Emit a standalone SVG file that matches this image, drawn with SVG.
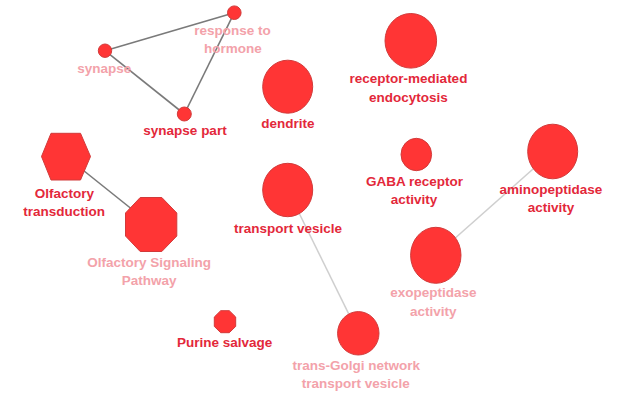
<svg xmlns="http://www.w3.org/2000/svg" width="619" height="399" viewBox="0 0 619 399">
<style>
.n{fill:#ff3535;stroke:#d23a3a;stroke-width:1}
.t{font-family:"Liberation Sans",Arial,sans-serif;font-weight:bold;font-size:13.5px;text-anchor:middle}
.r{fill:#e3283a}
.p{fill:#f3a2aa}
.ed{stroke:#7a7a7a;stroke-width:1.6;fill:none}
.el{stroke:#cfcfcf;stroke-width:1.5;fill:none}
</style>
<rect width="619" height="399" fill="#ffffff"/>
<g id="edges">
<line class="ed" x1="105" y1="50.7" x2="234.3" y2="12.7"/>
<line class="ed" x1="105" y1="50.7" x2="184.3" y2="114"/>
<line class="ed" x1="184.3" y1="114" x2="234.3" y2="12.7"/>
<line class="ed" x1="66" y1="156.5" x2="151" y2="224.5"/>
<line class="el" x1="287.7" y1="190" x2="358.3" y2="333.3"/>
<line class="el" x1="552.7" y1="151.5" x2="435.8" y2="255.3"/>
</g>
<g id="response-to-hormone">
<circle class="n" cx="234.3" cy="12.7" r="6.8"/>
<text class="t p" x="232.5" y="35">response to</text>
<text class="t p" x="232.8" y="53">hormone</text>
</g>
<g id="synapse">
<circle class="n" cx="105" cy="50.7" r="6.7"/>
<text class="t p" x="104.3" y="73">synapse</text>
</g>
<g id="synapse-part">
<circle class="n" cx="184.3" cy="114" r="7"/>
<text class="t r" x="185" y="135">synapse part</text>
</g>
<g id="dendrite">
<ellipse class="n" cx="287.7" cy="86.7" rx="25" ry="26.5"/>
<text class="t r" x="288" y="128">dendrite</text>
</g>
<g id="receptor-mediated-endocytosis">
<ellipse class="n" cx="410.8" cy="40.8" rx="25.8" ry="27.3"/>
<text class="t r" x="408.5" y="83.3">receptor-mediated</text>
<text class="t r" x="408.3" y="101.5">endocytosis</text>
</g>
<g id="olfactory-transduction">
<polygon class="n" points="41.5,156.5 51,133.3 80.5,133.3 90.5,156.5 80.5,180 51,180"/>
<text class="t r" x="64.5" y="197.5">Olfactory</text>
<text class="t r" x="64.2" y="216">transduction</text>
</g>
<g id="olfactory-signaling-pathway">
<polygon class="n" points="140.2,197.5 161.8,197.5 176.8,213 176.8,236 161.8,251.5 140.2,251.5 125.5,236 125.5,213"/>
<text class="t p" x="149.2" y="266.7">Olfactory Signaling</text>
<text class="t p" x="149.2" y="285">Pathway</text>
</g>
<g id="transport-vesicle">
<ellipse class="n" cx="287.7" cy="190" rx="25" ry="26.7"/>
<text class="t r" x="288" y="233">transport vesicle</text>
</g>
<g id="gaba-receptor-activity">
<ellipse class="n" cx="416.3" cy="154.5" rx="15.3" ry="16.2"/>
<text class="t r" x="414.5" y="185.7">GABA receptor</text>
<text class="t r" x="414" y="204">activity</text>
</g>
<g id="aminopeptidase-activity">
<ellipse class="n" cx="552.7" cy="151.5" rx="25" ry="27.3"/>
<text class="t r" x="551" y="194">aminopeptidase</text>
<text class="t r" x="551" y="212.3">activity</text>
</g>
<g id="exopeptidase-activity">
<ellipse class="n" cx="435.8" cy="255.3" rx="25.2" ry="28"/>
<text class="t p" x="433.3" y="297.3">exopeptidase</text>
<text class="t p" x="433.3" y="315.7">activity</text>
</g>
<g id="purine-salvage">
<polygon class="n" points="220.7,310.7 229.3,310.7 235.7,317 235.7,326.4 229.3,332.7 220.7,332.7 214.3,326.4 214.3,317"/>
<text class="t r" x="224.7" y="347.3">Purine salvage</text>
</g>
<g id="trans-golgi-network-transport-vesicle">
<ellipse class="n" cx="358.3" cy="333.3" rx="20.7" ry="21.7"/>
<text class="t p" x="356.3" y="370">trans-Golgi network</text>
<text class="t p" x="355.8" y="388.3">transport vesicle</text>
</g>
</svg>
